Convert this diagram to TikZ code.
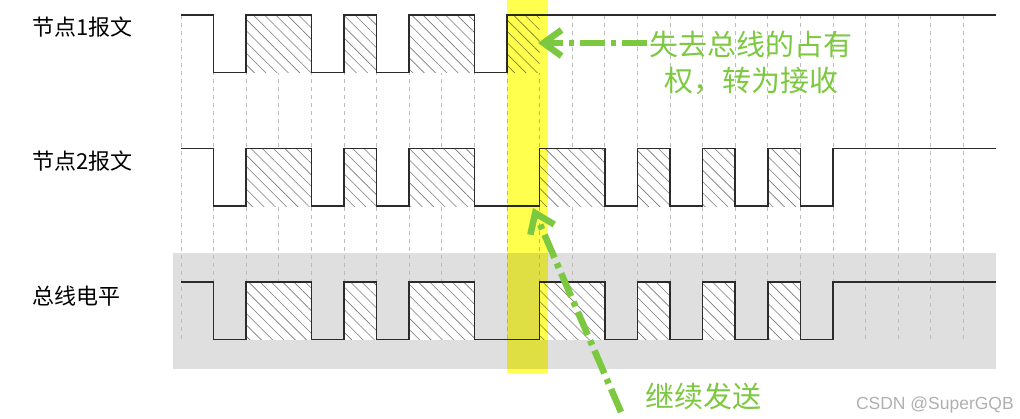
\documentclass[tikz,border=0pt]{standalone}
\usepackage{fontspec}
\newfontfamily\cjk{Noto Sans CJK SC}
\newfontfamily\marksans{Liberation Sans}
\usetikzlibrary{arrows.meta,patterns.meta}
\definecolor{busGrey}{HTML}{DFDFDF}
\definecolor{gridGrey}{HTML}{BDBDBD}
\definecolor{waveDark}{HTML}{2B2B2B}
\definecolor{hatchGrey}{HTML}{7A7A7A}
\definecolor{markYellow}{HTML}{FFFF4D}
\definecolor{noteGreen}{HTML}{7CC840}
\definecolor{markGrey}{HTML}{B0B0B0}

\begin{document}
\begin{tikzpicture}[
    x=1pt,y=-1pt,
    every node/.style={inner sep=2pt},
    sigName/.style={anchor=west,font=\cjk\fontsize{22}{26}\selectfont},
    note/.style={font=\cjk\fontsize{29}{36}\selectfont,text=noteGreen,align=center},
    gridline/.style={draw=gridGrey,line width=0.8pt,dash pattern=on 4pt off 4pt},
    wave/.style={draw=waveDark,line width=1.5pt},
    hatched/.style={preaction={fill=white},
                    pattern={Lines[angle=-45,distance=8pt,line width=0.6pt]},
                    pattern color=hatchGrey},
    pointer/.style={draw=noteGreen,line width=6.5pt,
                    dash pattern=on 25pt off 6pt on 5pt off 6pt,
                    -{Straight Barb[length=18pt,width=26pt]}}
  ]
  \useasboundingbox (0,0) rectangle (1020,418);
  \fill[busGrey] (173,253) rectangle (995.5,368.5);

  \begin{scope}[xshift=181pt,x=32.6pt]
    \foreach \k in {0,...,24}
      \draw[gridline] (\k,15) -- (\k,339);
    \foreach \a/\b in {2/4,5/6,7/9,10/11}
      \fill[hatched] (\a,15) rectangle (\b,72.5);
    \draw[wave] (0,15) -| (1,72.5) -| (2,15) -| (4,72.5) -| (5,15) -| (6,72.5)
      -| (7,15) -| (9,72.5) -| (10,15) -- (25,15);
    \foreach \y [evaluate=\y as \lo using \y+57.5] in {148.5,282} {
      \foreach \a/\b in {2/4,5/6,7/9,11/13,14/15,16/17,18/19}
        \fill[hatched] (\a,\y) rectangle (\b,\lo);
      \draw[wave] (0,\y) -| (1,\lo) -| (2,\y) -| (4,\lo) -| (5,\y) -| (6,\lo)
        -| (7,\y) -| (9,\lo) -| (11,\y) -| (13,\lo) -| (14,\y) -| (15,\lo)
        -| (16,\y) -| (17,\lo) -| (18,\y) -| (19,\lo) -| (20,\y) -- (25,\y);
    }
  \end{scope}

  \begin{scope}[blend mode=multiply]
    \fill[markYellow] (507,0) rectangle (548,372.5);
  \end{scope}

  \node[sigName] (node1) at (30,27) {节点1报文};
  \node[sigName] (node2) at (30,161) {节点2报文};
  \node[sigName] (bus) at (30,296) {总线电平};

  \node[note] (lost) at (751,63) {失去总线的占有\\权，转为接收};
  \node[note] (keep) at (703,396) {继续发送};
  \coordinate (lostTip) at (538,43);
  \coordinate (keepTail) at (621,412);
  \coordinate (keepTip) at (533,208);
  \draw[pointer] (lost.west |- lostTip) -- (lostTip);
  \draw[pointer] (keepTail) -- (keepTip);

  \node[font=\marksans\fontsize{17.5}{20}\selectfont,text=markGrey,anchor=east]
    (mark) at (1016,405) {CSDN @SuperGQB};
\end{tikzpicture}
\end{document}
